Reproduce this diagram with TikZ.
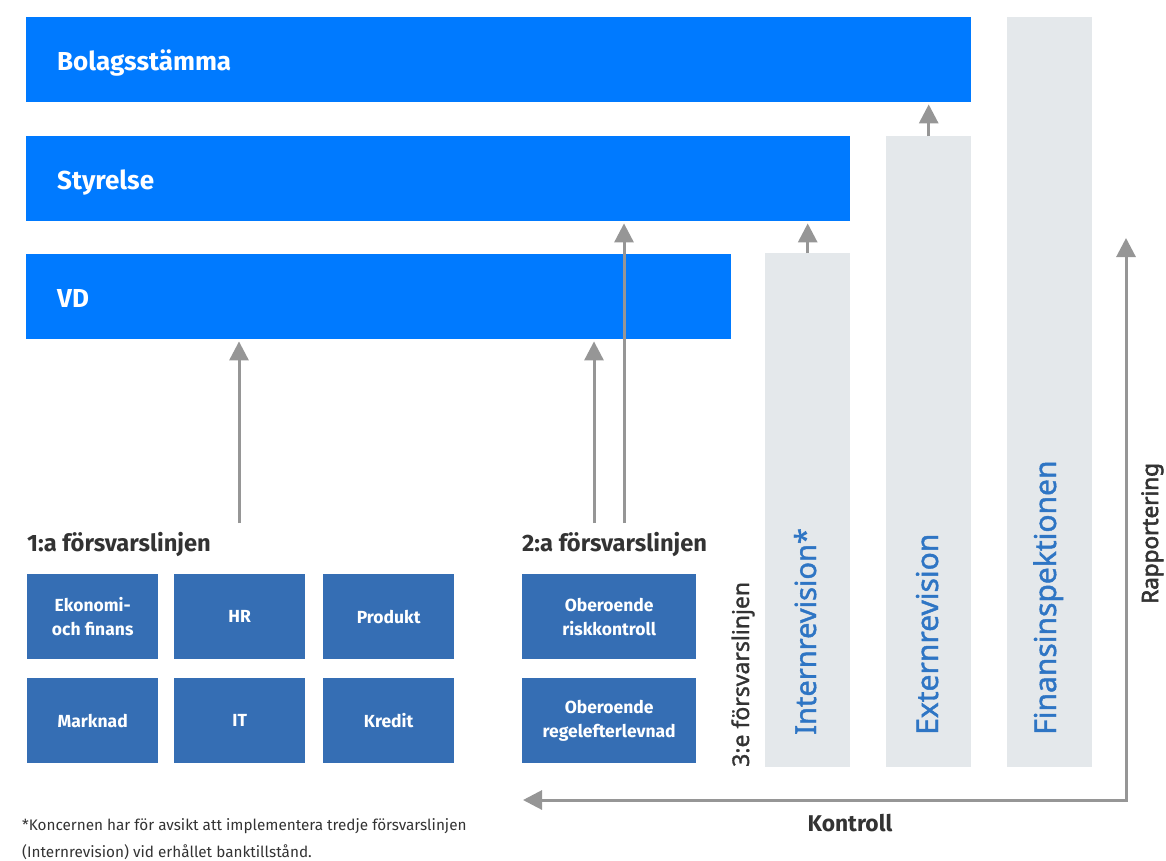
\documentclass[tikz,border=0pt]{standalone}
\usepackage{fontspec}
\setmainfont{Fira Sans}
\newfontfamily\vfont[FakeBold=1.4]{Noto Sans}
\newfontfamily\vbfont[FakeBold=2.6]{Noto Sans}
\usetikzlibrary{arrows.meta}
\definecolor{barblue}{RGB}{0,122,255}
\definecolor{boxblue}{RGB}{53,110,180}
\definecolor{lgray}{RGB}{228,232,235}
\definecolor{agray}{RGB}{150,150,150}
\definecolor{tdark}{RGB}{51,51,51}
\definecolor{vblue}{RGB}{46,117,196}
\tikzset{
  bar/.style={fill=barblue, draw=none, anchor=north west, minimum height=85pt, inner sep=0pt},
  barlabel/.style={anchor=base west, inner sep=0pt, text=white, font=\fontsize{26}{32}\selectfont\bfseries},
  col/.style={fill=lgray, draw=none, anchor=north west, minimum width=85pt, inner sep=0pt},
  sbox/.style={fill=boxblue, draw=none, anchor=north west, minimum height=85pt, inner sep=0pt, text=white, align=center, font=\fontsize{17.5}{24}\selectfont\bfseries},
  head/.style={anchor=base west, inner sep=0pt, text=tdark, font=\fontsize{23.7}{24}\selectfont\bfseries},
  vtext/.style={rotate=90, anchor=base west, inner sep=0pt, text=vblue, font=\vfont\fontsize{30}{34}\selectfont},
  arr/.style={draw=agray, line width=3pt, -{Triangle[width=19pt,length=19pt]}},
}
\begin{document}
\begin{tikzpicture}[x=1pt,y=-1pt]
\useasboundingbox (0,0) rectangle (1166,860);
% bars
\node[bar, minimum width=945pt] (bol) at (26,17) {};
\node[bar, minimum width=824pt] (sty) at (26,136) {};
\node[bar, minimum width=705pt] (vd) at (26,254) {};
\node[barlabel] (bolt) at (57,70) {Bolagsstämma};
\node[barlabel] (styt) at (57,189) {Styrelse};
\node[barlabel] (vdt) at (57,307) {VD};
% gray columns
\node[col, minimum height=514pt] (int) at (765,253) {};
\node[col, minimum height=631pt] (ext) at (886,136) {};
\node[col, minimum height=750pt] (fin) at (1007,17) {};
\node[vtext, font=\vfont\fontsize{29}{34}\selectfont] (intt) at (816,735) {Internrevision*};
\node[vtext] (extt) at (938,735) {Externrevision};
\node[vtext] (fint) at (1056,735) {Finansinspektionen};
\node[rotate=90, anchor=base west, inner sep=0pt, text=tdark, font=\vfont\fontsize{23}{24}\selectfont] (l3) at (749,767) {3:e försvarslinjen};
\node[rotate=90, anchor=base west, inner sep=0pt, text=tdark, font=\vbfont\fontsize{22.5}{24}\selectfont] (rap) at (1158,604) {Rapportering};
% headings
\node[head] (l1) at (27,551) {1:a försvarslinjen};
\node[head] (l2) at (522,551) {2:a försvarslinjen};
% small boxes
\node[sbox, minimum width=131pt] (eko) at (27,574) {Ekonomi-\\och finans};
\node[sbox, minimum width=131pt] (hr) at (174,574) {HR};
\node[sbox, minimum width=131pt] (pro) at (323,574) {Produkt};
\node[sbox, minimum width=131pt] (mar) at (27,678) {Marknad};
\node[sbox, minimum width=131pt] (it) at (174,678) {IT};
\node[sbox, minimum width=131pt] (kre) at (323,678) {Kredit};
\node[sbox, minimum width=174pt] (risk) at (522,574) {Oberoende\\riskkontroll};
\node[sbox, minimum width=174pt] (regel) at (522,678) {Oberoende\\regelefterlevnad};
% arrows
\coordinate (a1) at (239,523);
\coordinate (a2) at (594,523);
\coordinate (a3) at (624,523);
\draw[arr, shorten >=2pt] (a1) -- (a1 |- vd.south);
\draw[arr, shorten >=2pt] (a2) -- (a2 |- vd.south);
\draw[arr, shorten >=2pt] (a3) -- (a3 |- sty.south);
\draw[arr, shorten >=2pt] (int.north) -- (int.north |- sty.south);
\draw[arr, shorten >=2pt] (ext.north) -- (ext.north |- bol.south);
\coordinate (kend) at (523,800);
\coordinate (corner) at (1126,800);
\coordinate (rend) at (1126,238);
\draw[arr, {Triangle[width=19pt,length=19pt]}-{Triangle[width=19pt,length=19pt]}] (kend) -- (corner) -- (rend);
\node[anchor=base, inner sep=0pt, text=tdark, font=\fontsize{22.8}{24}\selectfont\bfseries] (kon) at (850,831) {Kontroll};
% footnote
\node[anchor=base west, inner sep=0pt, text=tdark, align=left, font=\fontsize{15.3}{27}\selectfont] (fn) at (22,857) {*Koncernen har för avsikt att implementera tredje försvarslinjen\\(Internrevision) vid erhållet banktillstånd.};
\end{tikzpicture}
\end{document}
